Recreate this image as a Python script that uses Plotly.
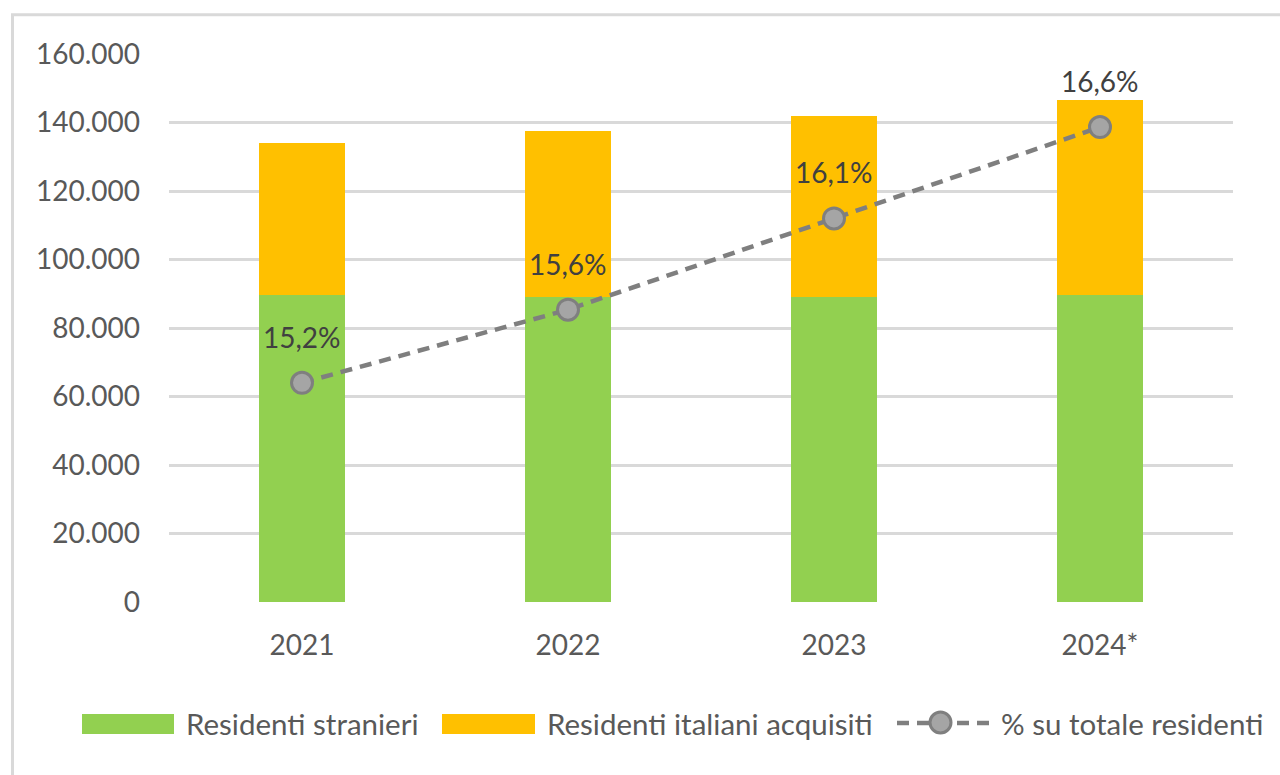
import plotly.graph_objects as go

# Residenti per anno
anni = ["2021", "2022", "2023", "2024*"]
residenti_stranieri = [89500, 89100, 89000, 89500]
residenti_italiani_acquisiti = [44400, 48500, 52900, 57100]
perc_su_totale = [15.2, 15.6, 16.1, 16.6]
nomi_serie = ["Residenti stranieri", "Residenti italiani acquisiti", "% su totale residenti"]
y_tickvals = [0, 20000, 40000, 60000, 80000, 100000, 120000, 140000, 160000]

VERDE = "#92d050"
GIALLO = "#ffc000"
GRIGIO_LINEA = "#7f7f7f"
GRIGIO_MARKER = "#a5a5a5"
TESTO = "#595959"
ETICHETTE = "#404040"
FONT = "Lato"

W, H = 1280, 775
ML, MR, MT, MB = 169, 47, 54, 173
PW, PH = W - ML - MR, H - MT - MB


def px_x(x):
    return (x - ML) / PW


def px_y(y):
    return (H - MB - y) / PH


# posizioni delle categorie sull'asse x
pos = list(range(len(anni)))

fig = go.Figure()

fig.add_trace(go.Bar(
    x=pos, y=residenti_stranieri, name=nomi_serie[0], width=0.327,
    marker=dict(color=VERDE, line=dict(width=0)),
    showlegend=False,
))
fig.add_trace(go.Bar(
    x=pos, y=residenti_italiani_acquisiti, name=nomi_serie[1], width=0.327,
    marker=dict(color=GIALLO, line=dict(width=0)),
    showlegend=False,
))
fig.add_trace(go.Scatter(
    x=pos, y=perc_su_totale, name=nomi_serie[2], yaxis="y2",
    mode="lines+markers",
    line=dict(color=GRIGIO_LINEA, width=4.5, dash="12px,8px"),
    marker=dict(symbol="circle", size=21, color=GRIGIO_MARKER,
                line=dict(color=GRIGIO_LINEA, width=3)),
    showlegend=False,
))

# Etichette percentuali sopra i punti
for i, p in zip(pos, perc_su_totale):
    fig.add_annotation(
        x=i, y=p, xref="x", yref="y2",
        text=f"{p:.1f}".replace(".", ",") + "%",
        showarrow=False, yshift=46, yanchor="middle",
        font=dict(family=FONT, size=28, color=ETICHETTE),
    )

shapes = []
# Cornice del grafico
shapes.append(dict(
    type="rect", xref="paper", yref="paper",
    x0=px_x(12.5), x1=px_x(W + 20), y0=px_y(14.8), y1=px_y(H + 20),
    line=dict(color="#d9d9d9", width=3), fillcolor="rgba(0,0,0,0)", layer="below",
))

# Legenda
leg_y0, leg_y1 = px_y(734), px_y(714)
leg_yc = px_y(723)
shapes.append(dict(type="rect", xref="paper", yref="paper",
                   x0=px_x(82), x1=px_x(174), y0=leg_y0, y1=leg_y1,
                   fillcolor=VERDE, line=dict(width=0)))
shapes.append(dict(type="rect", xref="paper", yref="paper",
                   x0=px_x(442), x1=px_x(535), y0=leg_y0, y1=leg_y1,
                   fillcolor=GIALLO, line=dict(width=0)))
shapes.append(dict(type="line", xref="paper", yref="paper",
                   x0=px_x(897), x1=px_x(989), y0=leg_yc, y1=leg_yc,
                   line=dict(color=GRIGIO_LINEA, width=4.5, dash="12px,8px")))
shapes.append(dict(type="circle", xref="paper", yref="paper",
                   x0=px_x(930), x1=px_x(951), y0=px_y(733), y1=px_y(712),
                   fillcolor=GRIGIO_MARKER, line=dict(color=GRIGIO_LINEA, width=3)))

legend_text_x = [184, 545, 999]
for nome, lx in zip(nomi_serie, legend_text_x):
    fig.add_annotation(
        x=px_x(lx), y=leg_yc, xref="paper", yref="paper",
        text=nome, showarrow=False, xanchor="left", yanchor="middle",
        font=dict(family=FONT, size=29.5, color=TESTO),
    )

fig.update_layout(
    width=W, height=H,
    margin=dict(l=ML, r=MR, t=MT, b=MB),
    paper_bgcolor="white", plot_bgcolor="white",
    separators=",.",
    barmode="stack",
    showlegend=False,
    shapes=shapes,
    font=dict(family=FONT, size=28, color=TESTO),
    xaxis=dict(
        type="linear", range=[-0.5, len(anni) - 0.5],
        tickvals=pos, ticktext=anni,
        showgrid=False, zeroline=False, showline=False, ticks="",
        tickfont=dict(family=FONT, size=28, color=TESTO),
        ticklabelstandoff=24,
    ),
    yaxis=dict(
        range=[0, 160000], tickvals=y_tickvals, tickformat=",d",
        showgrid=True, gridcolor="#d9d9d9", gridwidth=2.5,
        zeroline=False, showline=False, ticks="",
        tickfont=dict(family=FONT, size=28, color=TESTO),
        ticklabelstandoff=28,
    ),
    yaxis2=dict(
        range=[14.0, 17.0], overlaying="y", side="right",
        visible=False, showgrid=False, zeroline=False,
    ),
)

fig.write_html("out.html")
